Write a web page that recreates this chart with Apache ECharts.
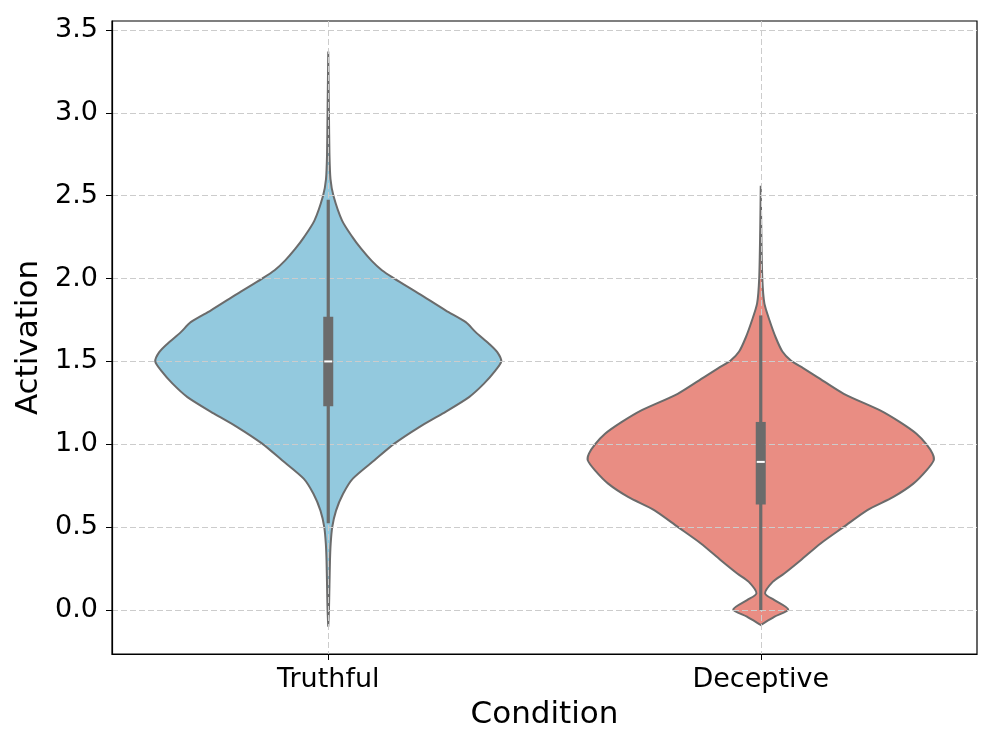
<!DOCTYPE html>
<html>
<head>
<meta charset="utf-8">
<script src="https://cdn.jsdelivr.net/npm/echarts@6/dist/echarts.min.js"></script>
<style>
html,body{margin:0;padding:0;background:#fff;}
#chart{width:997px;height:747px;}
</style>
</head>
<body>
<div id="chart"></div>
<script>
// ---- data ----
const categories = ['Truthful', 'Deceptive'];
const yTicks = [0.0, 0.5, 1.0, 1.5, 2.0, 2.5, 3.0, 3.5];

// violin profiles: value (y) and relative density (0..1, 1 = widest)
const truthfulY       = [3.37, 3.0,   2.75,  2.6,   2.5,  2.35, 2.25, 2.18, 2.108, 2.05, 2.0,   1.908, 1.807, 1.737, 1.677, 1.607, 1.556, 1.50, 1.446, 1.366, 1.285, 1.185, 1.104, 1.004, 0.904, 0.793, 0.70,  0.6,   0.5,   0.4,   0.3,   0.15,  0.0,   -0.1];
const truthfulDensity = [0.0,  0.004, 0.007, 0.013, 0.03, 0.08, 0.14, 0.19, 0.25,  0.31, 0.382, 0.526, 0.68,  0.795, 0.852, 0.929, 0.977, 1.0,  0.967, 0.90,  0.814, 0.66,  0.526, 0.382, 0.267, 0.142, 0.085, 0.045, 0.023, 0.014, 0.01,  0.007, 0.004, 0.0];

const deceptiveY       = [2.56, 2.3,   2.0,   1.85,  1.75, 1.646, 1.56,  1.506, 1.46,  1.406, 1.305, 1.205, 1.134, 1.064, 1.0,   0.944, 0.904, 0.843, 0.763, 0.683, 0.602, 0.502, 0.402, 0.301, 0.221, 0.17,  0.10,  0.06,  0.004, -0.04, -0.09];
const deceptiveDensity = [0.0,  0.003, 0.009, 0.021, 0.05, 0.086, 0.125, 0.174, 0.245, 0.327, 0.48,  0.69,  0.805, 0.90,  0.958, 0.993, 1.0,   0.958, 0.882, 0.767, 0.614, 0.48,  0.346, 0.231, 0.136, 0.069, 0.025, 0.079, 0.159, 0.08,  0.0];

// box stats: [lower whisker, q1, median, q3, upper whisker]
const truthfulBox  = [0.524, 1.23, 1.50, 1.77, 2.476];
const deceptiveBox = [0.0,   0.637, 0.894, 1.135, 1.777];

const violinColors = ['#93C9DE', '#E98D83'];

// ---- assembly ----
const profiles = [
  { y: truthfulY, d: truthfulDensity },
  { y: deceptiveY, d: deceptiveDensity }
];
const boxes = [truthfulBox, deceptiveBox];
const EDGE = '#6b6b6b';
const FONT = 'DejaVu Sans';

const chart = echarts.init(document.getElementById('chart'), null, { renderer: 'canvas' });

function renderViolin(params, api) {
  const i = params.dataIndex;
  const prof = profiles[i];
  const band = api.size([1, 0])[0];
  const half = 0.4 * band;
  const left = [], right = [];
  for (let k = 0; k < prof.y.length; k++) {
    const c = api.coord([i, prof.y[k]]);
    const w = prof.d[k] * half;
    left.push([c[0] - w, c[1]]);
    right.push([c[0] + w, c[1]]);
  }
  const pts = left.concat(right.reverse());
  return {
    type: 'polygon',
    shape: { points: pts, smooth: 0.25 },
    style: { fill: violinColors[i], stroke: EDGE, lineWidth: 2 }
  };
}

function renderBox(params, api) {
  const i = params.dataIndex;
  const b = boxes[i];
  const lo = api.coord([i, b[0]]);
  const q1 = api.coord([i, b[1]]);
  const med = api.coord([i, b[2]]);
  const q3 = api.coord([i, b[3]]);
  const hi = api.coord([i, b[4]]);
  const x = med[0];
  return {
    type: 'group',
    children: [
      { type: 'line', shape: { x1: x, y1: lo[1], x2: x, y2: hi[1] },
        style: { stroke: EDGE, lineWidth: 3.2 } },
      { type: 'rect', shape: { x: x - 5, y: q3[1], width: 10, height: q1[1] - q3[1] },
        style: { fill: EDGE } },
      { type: 'line', shape: { x1: x - 4, y1: med[1], x2: x + 4, y2: med[1] },
        style: { stroke: '#ffffff', lineWidth: 2 } }
    ]
  };
}

const seriesData = categories.map((c, i) => [i, boxes[i][2]]);

chart.setOption({
  backgroundColor: '#ffffff',
  animation: false,
  grid: {
    left: 112, right: 20, top: 21, bottom: 93,
    show: true, borderColor: '#000', borderWidth: 1.2, backgroundColor: 'transparent'
  },
  xAxis: {
    type: 'category',
    data: categories,
    z: 3,
    name: 'Condition',
    nameLocation: 'middle',
    nameGap: 45,
    nameTextStyle: { fontFamily: FONT, fontSize: 31, color: '#000' },
    axisLine: { show: true, onZero: false, lineStyle: { color: '#000', width: 1.2 } },
    axisTick: { show: true, alignWithLabel: true, length: 6, lineStyle: { color: '#000', width: 1 } },
    axisLabel: { fontFamily: FONT, fontSize: 27, color: '#000', margin: 12 },
    splitLine: { show: true, alignWithLabel: true, lineStyle: { color: '#cccccc', type: [6, 3], width: 1 } }
  },
  yAxis: {
    type: 'value',
    min: -0.265,
    max: 3.554,
    z: 3,
    name: 'Activation',
    nameLocation: 'middle',
    nameGap: 65,
    nameTextStyle: { fontFamily: FONT, fontSize: 31, color: '#000' },
    axisLine: { show: true, lineStyle: { color: '#000', width: 1.2 } },
    axisTick: { show: true, length: 6, customValues: yTicks, lineStyle: { color: '#000', width: 1 } },
    axisLabel: { fontFamily: FONT, fontSize: 27, color: '#000', margin: 14,
                 customValues: yTicks, formatter: v => Number(v).toFixed(1) },
    splitLine: { show: true, lineStyle: { color: '#cccccc', type: [6, 3], width: 1 } }
  },
  series: [
    { type: 'custom', z: 1, renderItem: renderViolin, data: seriesData, encode: { x: 0, y: 1 }, silent: true },
    { type: 'custom', z: 5, renderItem: renderBox, data: seriesData, encode: { x: 0, y: 1 }, silent: true }
  ]
});
</script>
</body>
</html>
